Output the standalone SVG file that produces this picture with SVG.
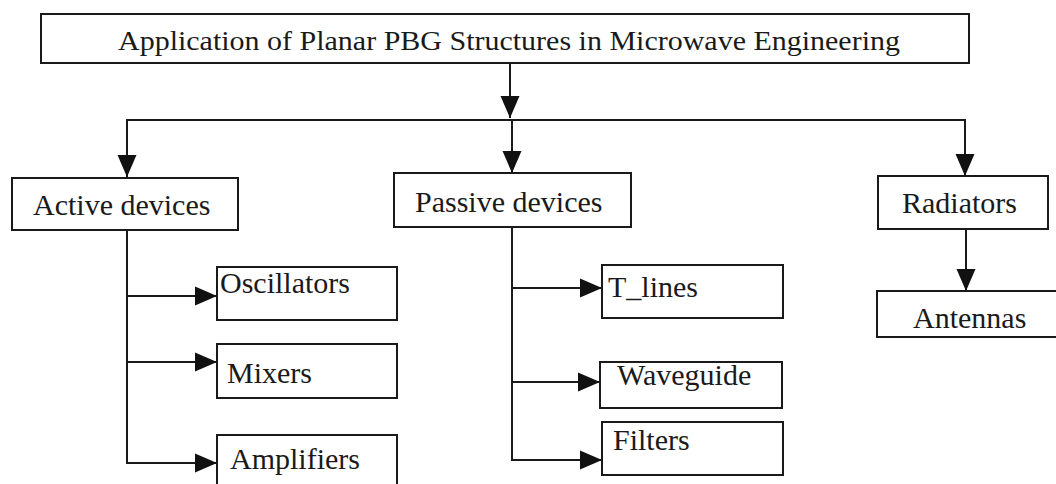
<svg xmlns="http://www.w3.org/2000/svg" width="1056" height="484" viewBox="0 0 1056 484">
  <style>
    .box { fill: #ffffff; stroke: #1a1a1a; stroke-width: 2; }
    .lbl { font-family: 'Liberation Serif', 'DejaVu Serif', serif; font-size: 30px; fill: #1a1a1a; }
    .wire { fill: none; stroke: #1a1a1a; stroke-width: 2; }
  </style>
  <defs>
    <marker id="arrow" markerUnits="userSpaceOnUse" markerWidth="24" markerHeight="20" refX="22" refY="10" orient="auto">
      <path d="M0,0.5 L22,10 L0,19.5 z" fill="#111111"/>
    </marker>
  </defs>
  <rect width="1056" height="484" fill="#ffffff"/>

  <g id="connectors">
    <!-- root to bus -->
    <line class="wire" x1="510" y1="63" x2="510" y2="118" marker-end="url(#arrow)"/>
    <line class="wire" x1="127" y1="120" x2="965" y2="120"/>
    <line class="wire" x1="127" y1="119" x2="127" y2="177" marker-end="url(#arrow)"/>
    <line class="wire" x1="512" y1="119" x2="512" y2="173" marker-end="url(#arrow)"/>
    <line class="wire" x1="965" y1="119" x2="965" y2="176" marker-end="url(#arrow)"/>
    <!-- active branch -->
    <polyline class="wire" points="127,230 127,463 217,463" marker-end="url(#arrow)"/>
    <line class="wire" x1="127" y1="296" x2="217" y2="296" marker-end="url(#arrow)"/>
    <line class="wire" x1="127" y1="362" x2="217" y2="362" marker-end="url(#arrow)"/>
    <!-- passive branch -->
    <polyline class="wire" points="512,227 512,460 602,460" marker-end="url(#arrow)"/>
    <line class="wire" x1="512" y1="288" x2="602" y2="288" marker-end="url(#arrow)"/>
    <line class="wire" x1="512" y1="382" x2="600" y2="382" marker-end="url(#arrow)"/>
    <!-- radiators branch -->
    <line class="wire" x1="966" y1="229" x2="966" y2="291" marker-end="url(#arrow)"/>
  </g>

  <g id="root">
    <rect class="box" x="41" y="14" width="928" height="49"/>
    <text class="lbl" x="118" y="50" style="font-size:28px" textLength="782" lengthAdjust="spacingAndGlyphs">Application of Planar PBG Structures in Microwave Engineering</text>
  </g>

  <g id="active">
    <rect class="box" x="12" y="178" width="226" height="52"/>
    <text class="lbl" x="33" y="215">Active devices</text>
  </g>
  <g id="passive">
    <rect class="box" x="394" y="173" width="237" height="54"/>
    <text class="lbl" x="415" y="212">Passive devices</text>
  </g>
  <g id="radiators">
    <rect class="box" x="878" y="176" width="170" height="53"/>
    <text class="lbl" x="902" y="213">Radiators</text>
  </g>

  <g id="oscillators">
    <rect class="box" x="217" y="267" width="180" height="53"/>
    <text class="lbl" x="220" y="293">Oscillators</text>
  </g>
  <g id="mixers">
    <rect class="box" x="217" y="344" width="180" height="54"/>
    <text class="lbl" x="227" y="383">Mixers</text>
  </g>
  <g id="amplifiers">
    <rect class="box" x="217" y="435" width="180" height="60"/>
    <text class="lbl" x="230" y="469">Amplifiers</text>
  </g>

  <g id="tlines">
    <rect class="box" x="602" y="265" width="181" height="53"/>
    <text class="lbl" x="608" y="297">T_lines</text>
  </g>
  <g id="waveguide">
    <rect class="box" x="600" y="362" width="182" height="46"/>
    <text class="lbl" x="617" y="385">Waveguide</text>
  </g>
  <g id="filters">
    <rect class="box" x="602" y="422" width="181" height="53"/>
    <text class="lbl" x="613" y="450">Filters</text>
  </g>

  <g id="antennas">
    <rect class="box" x="877" y="291" width="185" height="46"/>
    <text class="lbl" x="913" y="328">Antennas</text>
  </g>
</svg>
